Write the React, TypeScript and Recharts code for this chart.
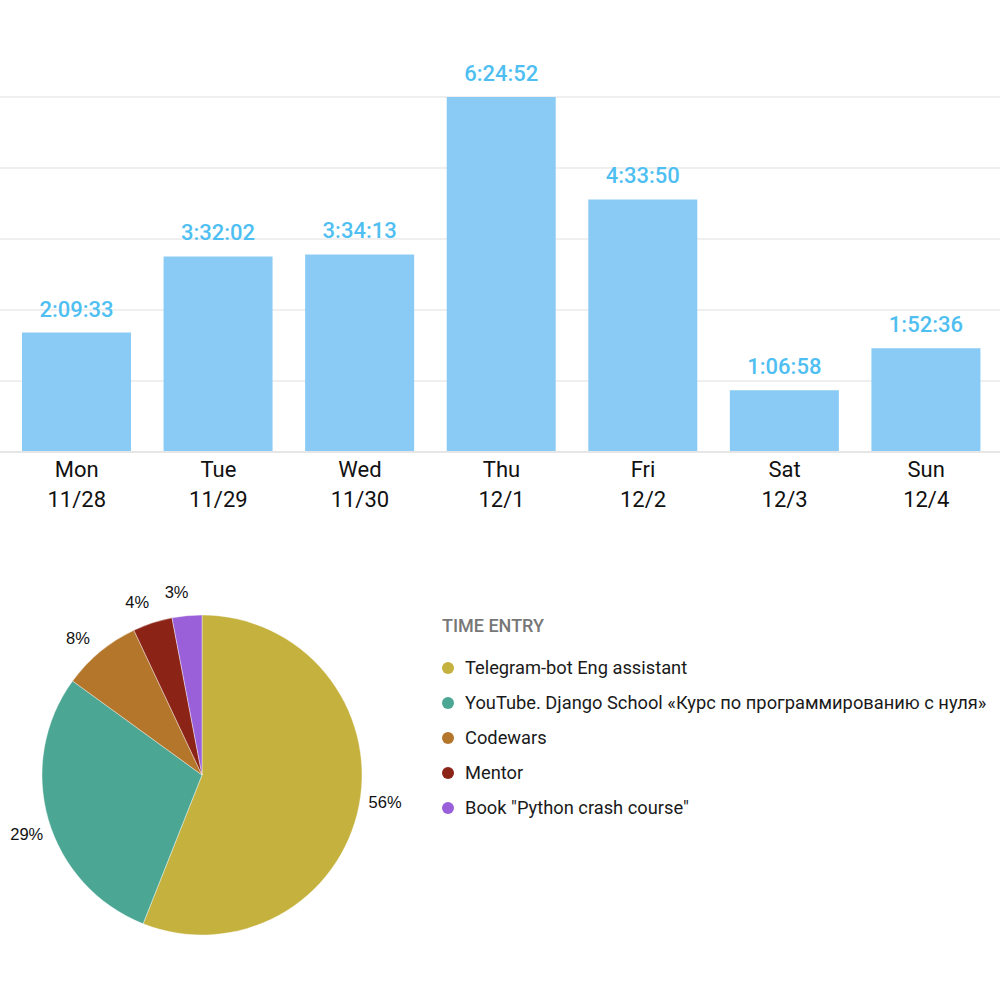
import React from 'react';
import { BarChart, Bar, XAxis, YAxis, CartesianGrid, LabelList, PieChart, Pie, Cell } from 'recharts';

const days = ['Mon', 'Tue', 'Wed', 'Thu', 'Fri', 'Sat', 'Sun'];
const dates = ['11/28', '11/29', '11/30', '12/1', '12/2', '12/3', '12/4'];
const durations = ['2:09:33', '3:32:02', '3:34:13', '6:24:52', '4:33:50', '1:06:58', '1:52:36'];

const categories = [
  'Telegram-bot Eng assistant',
  'YouTube. Django School «Курс по программированию с нуля»',
  'Codewars',
  'Mentor',
  'Book "Python crash course"',
];
const shares = [56, 29, 8, 4, 3];
const sliceColors = ['#C5B13D', '#4BA694', '#B4762B', '#8C2317', '#9A60D9'];

const gridSteps = [0, 1, 2, 3, 4, 5];

const FONT = 'Roboto, "Noto Sans", sans-serif';
const PIE_FONT = '"Liberation Sans", Arial, sans-serif';
const BAR_COLOR = '#89CBF5';
const LABEL_COLOR = '#4FBFF2';

const toSeconds = (s: string) => s.split(':').reduce((acc, p) => acc * 60 + Number(p), 0);

const barData = days.map((d, i) => ({
  day: d,
  date: dates[i],
  label: durations[i],
  seconds: toSeconds(durations[i]),
}));

const maxSec = Math.max(...barData.map((d) => d.seconds));
const yTicks = gridSteps.map((s) => (maxSec * s) / gridSteps[gridSteps.length - 1]);

const pieData = categories.map((c, i) => ({ name: c, value: shares[i], color: sliceColors[i] }));

const DayTick = (props: any) => {
  const { x, y, payload, index } = props;
  const date = dates[index] ?? barData.find((d) => d.day === payload.value)?.date;
  return (
    <g>
      <text x={x} y={y + 25} textAnchor="middle" fontFamily={FONT} fontSize={22} fill="#111">
        {payload.value}
      </text>
      <text x={x} y={y + 55} textAnchor="middle" fontFamily={FONT} fontSize={22} fill="#111">
        {date}
      </text>
    </g>
  );
};

const BarLabel = (props: any) => {
  const { x, y, width, value } = props;
  return (
    <text
      x={Number(x) + Number(width) / 2}
      y={Number(y) - 16}
      textAnchor="middle"
      fontFamily={FONT}
      fontSize={22}
      fontWeight={500}
      fill={LABEL_COLOR}
    >
      {value}
    </text>
  );
};

const RAD = Math.PI / 180;
const PieLabel = (props: any) => {
  const { cx, cy, midAngle, outerRadius, value } = props;
  const r = outerRadius + 25;
  const ang = midAngle + 2.5;
  return (
    <text
      x={cx + r * Math.cos(-ang * RAD)}
      y={cy + r * Math.sin(-ang * RAD)}
      textAnchor="middle"
      dominantBaseline="central"
      fontFamily={PIE_FONT}
      fontSize={16.5}
      fill="#111"
    >
      {`${value}%`}
    </text>
  );
};

const LegendBlock = () => (
  <div style={{ fontFamily: FONT, position: 'absolute', left: 442, top: 616 }}>
    <div style={{ height: 20, lineHeight: '20px', fontSize: 18, fontWeight: 500, color: '#777', marginBottom: 14 }}>
      TIME ENTRY
    </div>
    {pieData.map((d) => (
      <div key={d.name} style={{ display: 'flex', alignItems: 'center', height: 35, lineHeight: '35px' }}>
        <span
          style={{
            display: 'inline-block',
            width: 12,
            height: 12,
            borderRadius: 6,
            background: d.color,
            marginRight: 11,
          }}
        />
        <span style={{ fontSize: 18.3, color: '#1a1a1a', whiteSpace: 'nowrap' }}>{d.name}</span>
      </div>
    ))}
  </div>
);

export default function App() {
  return (
    <div style={{ position: 'absolute', left: 0, top: 0, width: 1000, height: 1000, background: '#fff', overflow: 'hidden' }}>
      <div style={{ position: 'absolute', left: 0, top: 0 }}>
        <BarChart width={1000} height={540} data={barData} margin={{ top: 97, right: 0, left: 0, bottom: 28 }}>
          <CartesianGrid vertical={false} stroke="#EFEFEF" strokeWidth={2} />
          <YAxis hide domain={[0, maxSec]} ticks={yTicks} />
          <XAxis
            dataKey="day"
            height={60}
            padding={{ left: 6, right: 3 }}
            axisLine={{ stroke: '#E6E6E6', strokeWidth: 2 }}
            tickLine={false}
            tickSize={0}
            tickMargin={0}
            interval={0}
            tick={<DayTick />}
          />
          <Bar dataKey="seconds" fill={BAR_COLOR} barSize={109} isAnimationActive={false}>
            <LabelList dataKey="label" content={<BarLabel />} />
          </Bar>
        </BarChart>
      </div>
      <div style={{ position: 'absolute', left: 0, top: 575 }}>
        <PieChart width={420} height={400} margin={{ top: 0, right: 0, bottom: 0, left: 0 }}>
          <Pie
            data={pieData}
            dataKey="value"
            nameKey="name"
            cx={202}
            cy={200}
            outerRadius={160}
            startAngle={90}
            endAngle={-270}
            stroke="#ffffff"
            strokeWidth={0.4}
            label={<PieLabel />}
            labelLine={false}
            isAnimationActive={false}
          >
            {pieData.map((d) => (
              <Cell key={d.name} fill={d.color} />
            ))}
          </Pie>
        </PieChart>
      </div>
      <LegendBlock />
    </div>
  );
}
